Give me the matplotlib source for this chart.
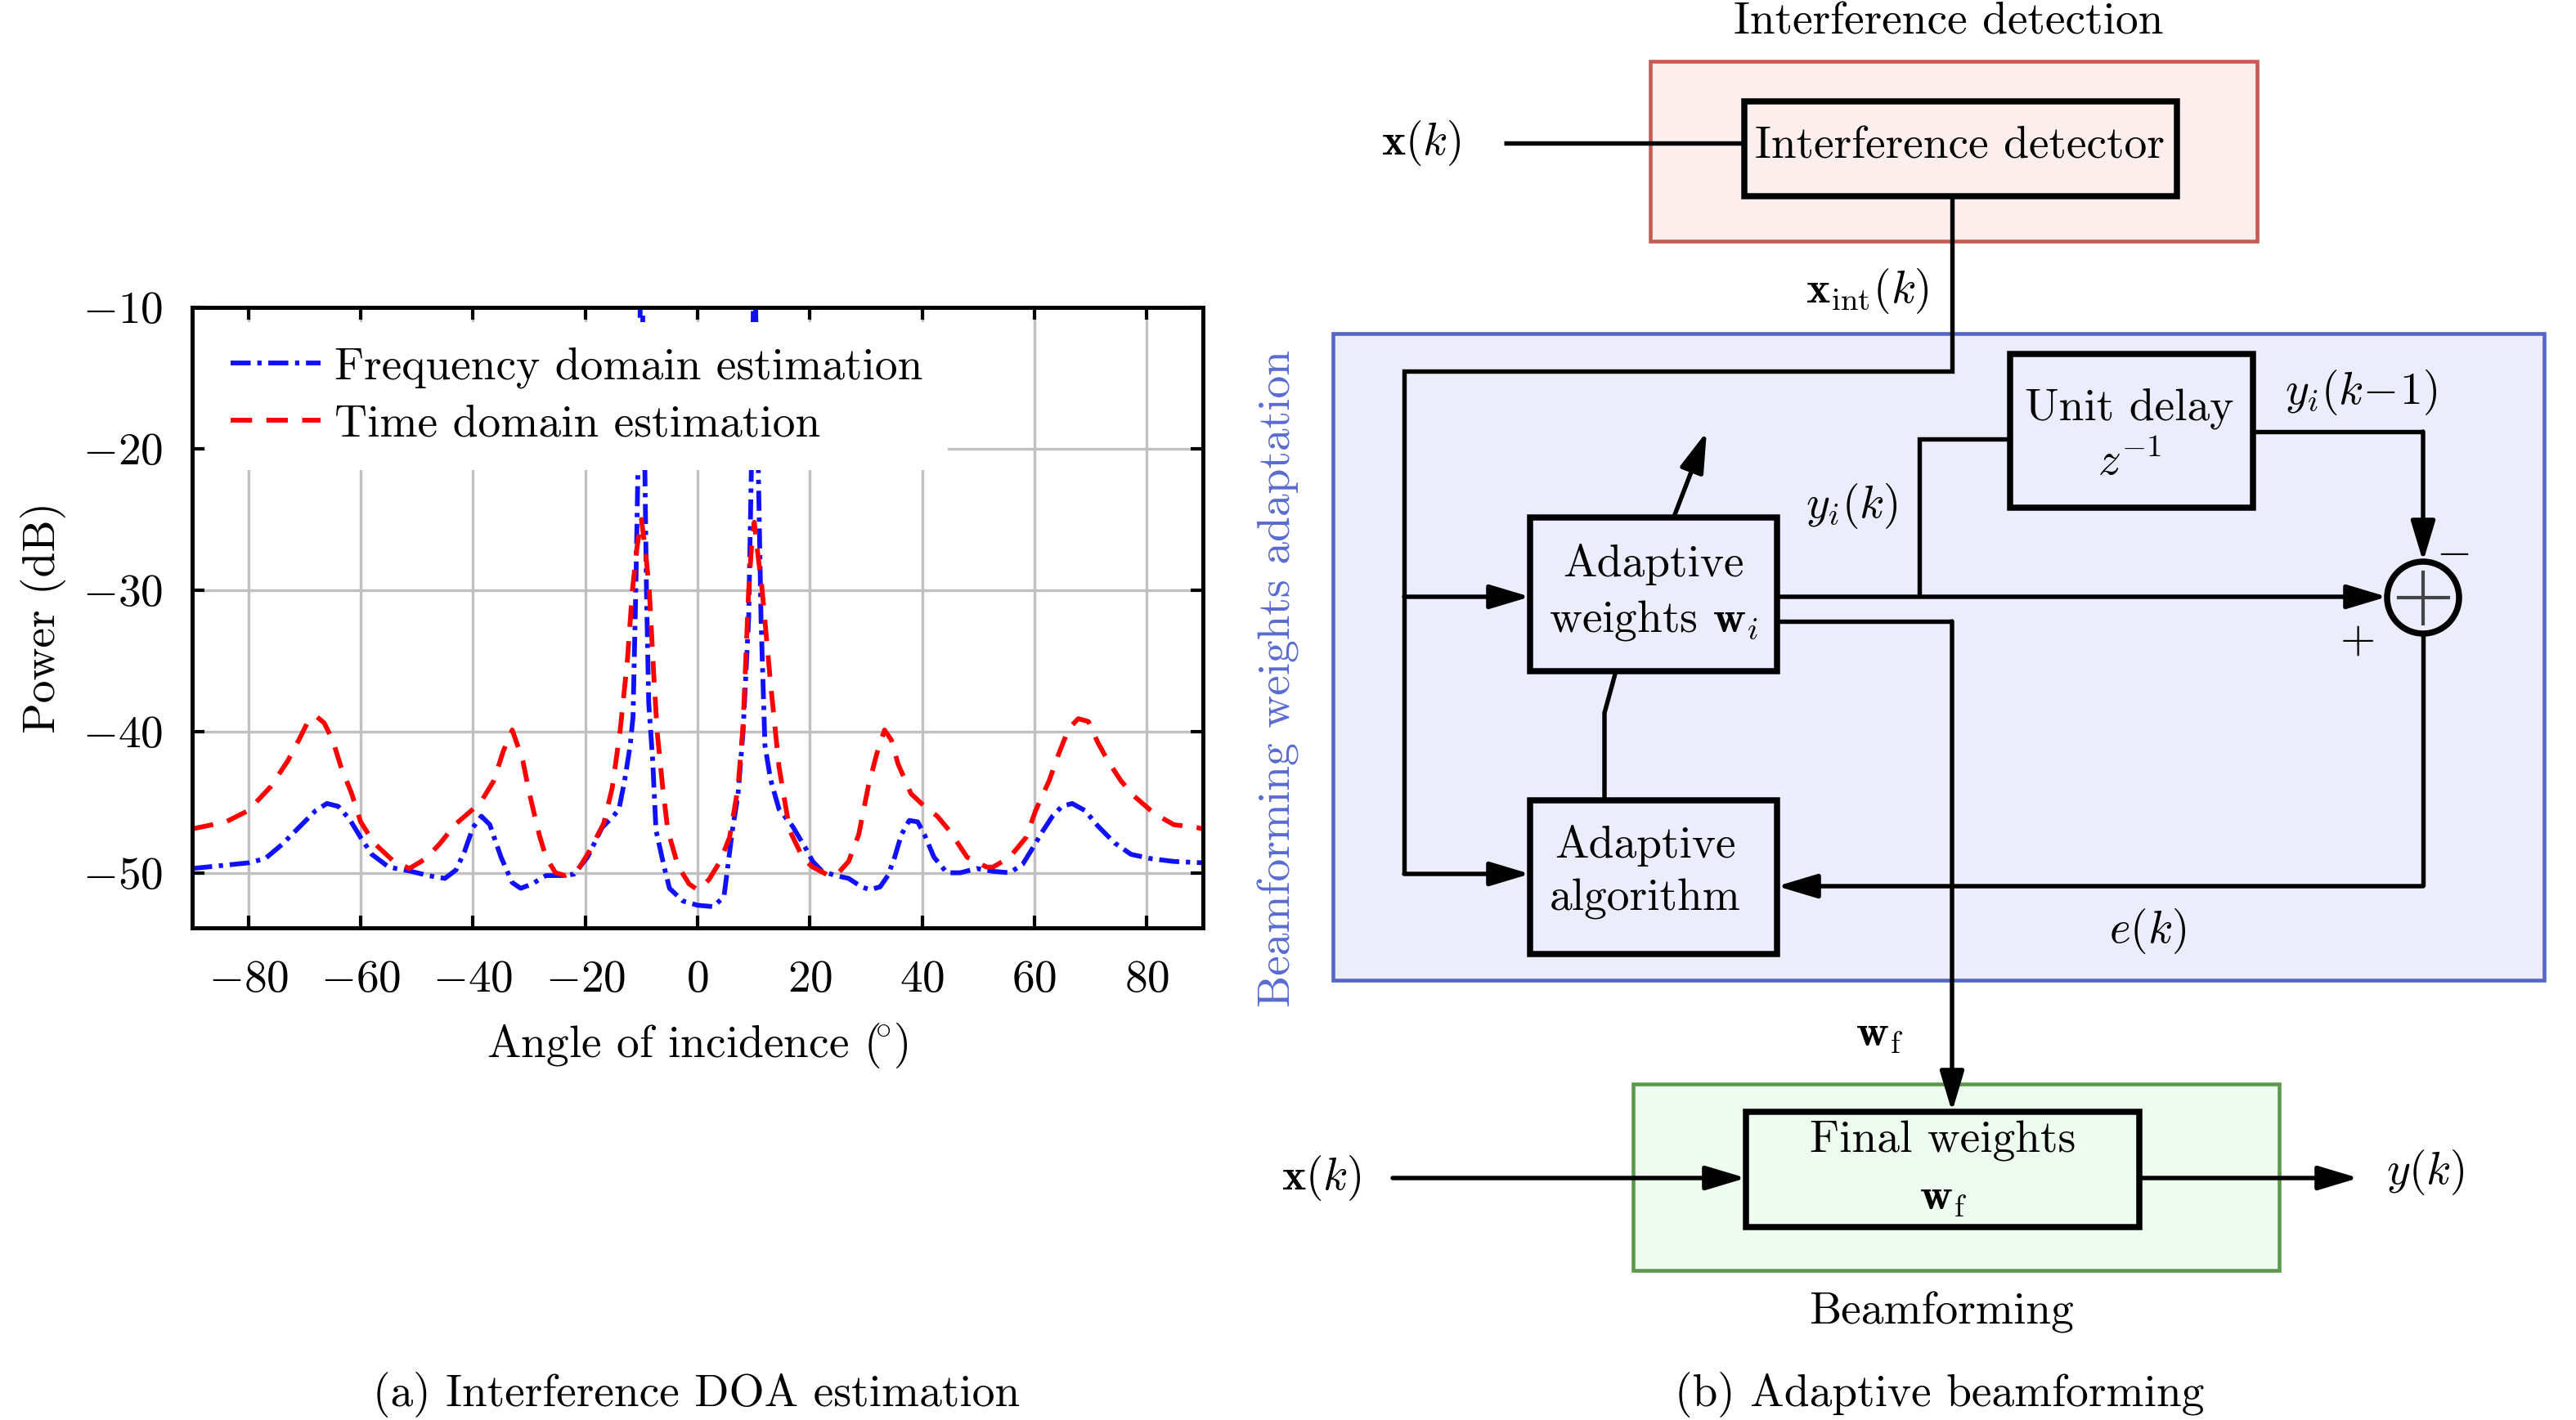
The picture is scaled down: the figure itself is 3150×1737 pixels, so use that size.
import matplotlib
matplotlib.use('Agg')
import matplotlib.pyplot as plt
from matplotlib import patches

plt.rcParams['font.family'] = ['cmr10', 'DejaVu Serif']
plt.rcParams['mathtext.fontset'] = 'cm'
plt.rcParams['axes.formatter.use_mathtext'] = True
plt.rcParams['font.size'] = 13.3

W, H, DPI = 3150, 1737, 300
FS = 13.3

# (a) interference DOA estimation
freq_angle = [-90, -85, -80, -77, -74, -71, -68, -66, -64, -62, -60, -58, -55, -51, -48, -45,
              -43, -41.5, -40, -38.5, -37, -35, -33, -31.5, -29.5, -27, -24, -22, -19.6, -17,
              -15, -14, -13, -12, -11.5, -11, -10.6, -10, -9.4, -9.1, -8.7, -8, -7.4, -6, -5,
              -2.6, 0, 2.8, 4.7, 6.2, 7.2, 8.1, 9.1, 9.6, 10.1, 10.8, 11.3, 12, 13, 14.5, 16.9,
              19.3, 20.5, 22.2, 24.6, 26.9, 29.2, 30.7, 32.5, 33.9, 35.1, 36.3, 37.7, 39.2, 40.4,
              42.1, 44.4, 46.8, 49.7, 52.6, 55.6, 57.9, 59.6, 61.4, 63.2, 64.9, 66.7, 69, 71.3,
              74.3, 77.2, 80.7, 84.8, 90]
freq_power = [-49.7, -49.5, -49.3, -49.0, -48.0, -46.8, -45.6, -45.1, -45.3, -46.2, -47.5, -48.7,
              -49.6, -49.9, -50.2, -50.4, -49.8, -48.5, -46.8, -46.0, -46.6, -48.9, -50.7, -51.1,
              -50.8, -50.2, -50.2, -50.1, -48.9, -46.8, -46.0, -45.5, -43.5, -41.0, -39.0, -30.0,
              -21.0, -4.0, -21.0, -30.0, -38.0, -42.0, -47.0, -49.5, -51.1, -52.0, -52.3, -52.4,
              -51.7, -47.0, -44.5, -40.0, -32.0, -21.0, -4.0, -21.0, -32.0, -41.0, -43.4, -45.5,
              -46.7, -48.3, -49.2, -49.9, -50.2, -50.4, -51.0, -51.2, -51.0, -50.2, -48.9, -47.3,
              -46.3, -46.4, -47.3, -48.9, -50.0, -50.0, -49.7, -49.9, -50.0, -49.4, -48.3, -47.1,
              -46.0, -45.3, -45.1, -45.6, -46.7, -47.9, -48.7, -49.0, -49.2, -49.3]

time_angle = [-90, -84, -80, -76, -73, -71, -69.5, -68, -66.5, -65, -63.5, -61.6, -60, -57.6,
              -54.1, -51.3, -48.4, -45.8, -43.2, -39.7, -38.3, -36.3, -34.6, -33, -31.1, -30,
              -28.2, -27, -25.3, -23.6, -21.3, -19.3, -16.7, -15.2, -13.8, -12.5, -11.6, -10.8,
              -10, -9.2, -8.6, -7.8, -7.2, -6.2, -5.3, -3.5, -1.5, 0, 2, 4, 5.7, 7.2, 8.1, 9.1,
              9.6, 10.1, 10.6, 11.5, 13, 14.5, 16.4, 18.8, 20.5, 23.4, 25.1, 26.9, 28.7, 30.4,
              31.9, 33.3, 34.5, 35.7, 38, 40.4, 42.7, 45, 48, 51.5, 52.6, 55.6, 58.5, 60.2, 62.6,
              64.3, 66.1, 67.8, 69.6, 71.3, 73.1, 75.4, 77.8, 81.3, 84.8, 88.9, 90]
time_power = [-46.9, -46.4, -45.6, -43.9, -42.1, -40.6, -39.4, -38.9, -39.4, -40.6, -42.5, -44.4,
              -46.4, -47.9, -49.2, -49.7, -49.0, -47.9, -46.6, -45.4, -44.8, -43.5, -41.4, -39.9,
              -42.1, -44.3, -47.3, -48.9, -50.0, -50.2, -49.8, -48.5, -46.5, -44.0, -40.0, -35.0,
              -30.0, -27.0, -25.0, -27.5, -30.0, -36.0, -40.0, -44.0, -47.0, -49.5, -50.8, -51.2,
              -50.5, -49.2, -47.5, -44.0, -39.6, -30.0, -27.0, -25.2, -27.0, -30.0, -36.6, -42.5,
              -47.0, -49.0, -49.6, -50.2, -50.0, -49.2, -47.3, -43.9, -41.6, -39.9, -40.6, -42.3,
              -44.4, -45.3, -46.0, -47.1, -48.9, -49.6, -49.6, -48.9, -47.5, -45.6, -43.5, -41.6,
              -39.8, -39.1, -39.3, -40.8, -42.1, -43.5, -44.6, -45.8, -46.6, -46.8, -46.9]

x_ticks = [-80, -60, -40, -20, 0, 20, 40, 60, 80]
y_ticks = [-50, -40, -30, -20, -10]

fig = plt.figure(figsize=(W / DPI, H / DPI), dpi=DPI)

# canvas for the block diagram, one unit = one pixel, y downwards
dg = fig.add_axes([0, 0, 1, 1])
dg.set_xlim(0, W)
dg.set_ylim(H, 0)
dg.axis('off')

ax = fig.add_axes([235 / W, 1 - 1135 / H, (1471 - 235) / W, (1135 - 376) / H])
ax.plot(freq_angle, freq_power, color='#1010ff', lw=1.4, dashes=(4.2, 1.4, 0.9, 1.4),
        label='Frequency domain estimation')
ax.plot(time_angle, time_power, color='#ff0000', lw=1.4, dashes=(4.5, 3),
        label='Time domain estimation')
ax.set_xlim(-90, 90)
ax.set_ylim(-53.9, -10)
ax.set_xticks(x_ticks)
ax.set_yticks(y_ticks)
ax.grid(True, color='#c0c0c0', lw=0.8)
ax.set_axisbelow(True)
ax.tick_params(direction='in', top=True, right=True, length=3.5, width=1.0, pad=8.5, labelsize=FS)
ax.tick_params(axis='x', pad=9.5)
for s in ax.spines.values():
    s.set_linewidth(1.2)
ax.set_xlabel(r'Angle of incidence $(\!\!^\circ\!)$', fontsize=FS, labelpad=6)
ax.set_ylabel('Power (dB)', fontsize=FS, labelpad=5)
ax.legend(loc='upper left', bbox_to_anchor=(0.013, 0.976), frameon=True, facecolor='white',
          edgecolor='none', framealpha=1, fancybox=False, handlelength=2.0, handletextpad=0.3,
          labelspacing=0.35, borderpad=0.55, borderaxespad=0, fontsize=FS)

# ---- (b) block diagram ----
LW = 1.3


def line(xs, ys):
    dg.plot(xs, ys, color='k', lw=LW, solid_capstyle='butt', solid_joinstyle='miter', zorder=3)


def arrow(x0, y0, x1, y1):
    dg.annotate('', xy=(x1, y1), xytext=(x0, y0),
                arrowprops=dict(arrowstyle='-|>,head_length=0.5,head_width=0.15', lw=LW,
                                color='k', shrinkA=0, shrinkB=0, mutation_scale=20), zorder=4)


def region(x0, y0, x1, y1, fc, ec):
    dg.add_patch(patches.Rectangle((x0, y0), x1 - x0, y1 - y0, fc=fc, ec=ec, lw=1.1, zorder=1))


def box(x0, y0, x1, y1):
    dg.add_patch(patches.Rectangle((x0, y0), x1 - x0, y1 - y0, fill=False, ec='k', lw=1.8, zorder=5))


region(2018, 75, 2760, 295, '#fdeeee', '#c65a52')
region(1630, 408, 3111, 1199, '#ecedfc', '#5566c8')
region(1997, 1326, 2787, 1554, '#edfcee', '#5b9a4c')

box(2133, 124, 2662, 240)
box(1871, 633, 2173, 821)
box(1871, 979, 2173, 1167)
box(2458, 433, 2755, 621)
box(2135, 1360, 2616, 1501)
dg.add_patch(patches.Circle((2963, 731), 44, fill=False, ec='k', lw=1.8, zorder=5))
dg.plot([2933, 2994], [731, 731], color='#444444', lw=1.0, zorder=5)
dg.plot([2963, 2963], [700, 763], color='#444444', lw=1.0, zorder=5)

# wiring
line([1839, 2133], [175, 175])
line([2387, 2387, 1717, 1717], [240, 454, 454, 1069])
arrow(1717, 730, 1871, 730)
arrow(1717, 1069, 1871, 1069)
arrow(2047, 632, 2087, 528)
line([1962, 1962, 1976], [979, 872, 821])
arrow(2173, 730, 2919, 730)
line([2347, 2347, 2458], [730, 537, 537])
line([2755, 2963], [528, 528])
arrow(2963, 528, 2963, 687)
line([2963, 2963], [775, 1084])
arrow(2963, 1084, 2173, 1084)
line([2173, 2387], [760, 760])
arrow(2387, 760, 2387, 1360)
arrow(1703, 1441, 2135, 1441)
arrow(2616, 1441, 2884, 1441)

# labels
kw = dict(ha='center', va='center', fontsize=FS, zorder=6)
dg.text(2383, 28, 'Interference detection', **kw)
dg.text(2397, 180, 'Interference detector', **kw)
dg.text(1738, 175, r'$\mathbf{x}(k)$', **kw)
dg.text(2283, 356, r'$\mathbf{x}_{\rm int}(k)$', **kw)
dg.text(2022, 690, 'Adaptive', **kw)
dg.text(2022, 759, r'weights $\mathbf{w}_i$', **kw)
dg.text(2012, 1035, 'Adaptive', **kw)
dg.text(2012, 1100, 'algorithm', **kw)
dg.text(2604, 500, 'Unit delay', **kw)
dg.text(2604, 566, r'$z^{-1}$', **kw)
dg.text(2887, 480, r'$y_i(k\!-\!1)$', **kw)
dg.text(2264, 619, r'$y_i(k)$', **kw)
dg.text(2999, 676, r'$-$', **kw)
dg.text(2882, 784, r'$+$', **kw)
dg.text(2626, 1139, r'$e(k)$', **kw)
dg.text(2298, 1266, r'$\mathbf{w}_{\rm f}$', **kw)
dg.text(2376, 1396, 'Final weights', **kw)
dg.text(2376, 1466, r'$\mathbf{w}_{\rm f}$', **kw)
dg.text(1616, 1441, r'$\mathbf{x}(k)$', **kw)
dg.text(2966, 1434, r'$y(k)$', **kw)
dg.text(2374, 1605, 'Beamforming', **kw)
dg.text(1563, 830, 'Beamforming weights adaptation', rotation=90, color='#5a6bd0',
        ha='center', va='center', fontsize=13.3, zorder=6)

dg.text(852, 1706, '(a) Interference DOA estimation', **kw)
dg.text(2372, 1706, '(b) Adaptive beamforming', **kw)

fig.savefig('out.png', dpi=DPI)
